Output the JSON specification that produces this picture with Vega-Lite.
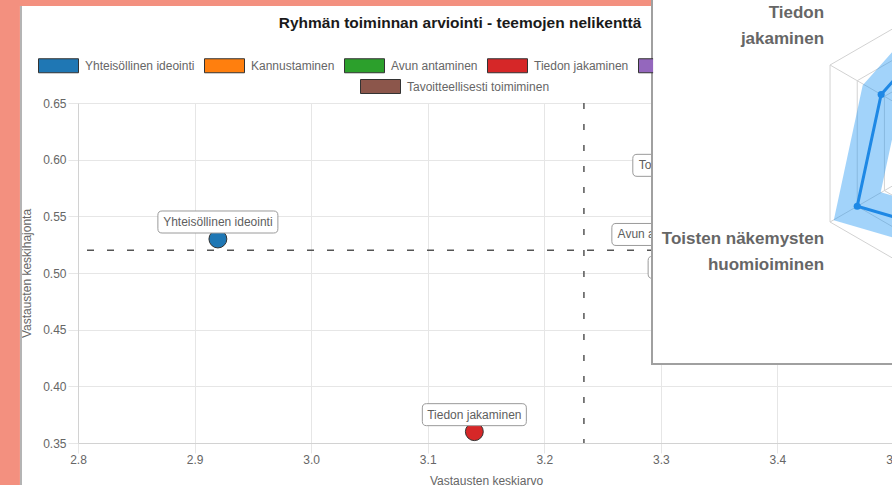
{
  "$schema": "https://vega.github.io/schema/vega-lite/v6.json",
  "autosize": {"type": "none"},
  "padding": {"left": 78, "top": 103, "right": 0, "bottom": 42},
  "width": 816,
  "height": 340,
  "background": "#ffffff",
  "title": {
    "text": "Ryhmän toiminnan arviointi - teemojen nelikenttä",
    "font": "Liberation Sans",
    "fontSize": 15.5,
    "fontWeight": "bold",
    "color": "#1a1a1a",
    "anchor": "middle",
    "frame": "group",
    "offset": 0,
    "dx": -26,
    "dy": 112
  },
  "config": {"view": {"stroke": null}},
  "datasets": {
    "teemat": [
      {"teema": "Yhteisöllinen ideointi", "keskiarvo": 2.92, "keskihajonta": 0.53},
      {"teema": "Kannustaminen", "keskiarvo": 3.35, "keskihajonta": 0.64},
      {"teema": "Avun antaminen", "keskiarvo": 3.30, "keskihajonta": 0.519},
      {"teema": "Tiedon jakaminen", "keskiarvo": 3.14, "keskihajonta": 0.36},
      {"teema": "Toisten näkemysten huomioiminen", "keskiarvo": 3.36, "keskihajonta": 0.58},
      {"teema": "Tavoitteellisesti toimiminen", "keskiarvo": 3.356, "keskihajonta": 0.49}
    ],
    "tutka": [
      {"akseli": "", "kulma": 90, "arvo": 4.6},
      {"akseli": "Tiedon jakaminen", "kulma": 150, "arvo": 3.12},
      {"akseli": "Toisten näkemysten huomioiminen", "kulma": 210, "arvo": 4.0},
      {"akseli": "", "kulma": 270, "arvo": 3.0}
    ],
    "tutkaverkko": [
      {"r1": 3, "a1": 90, "r2": 3, "a2": 150},
      {"r1": 3, "a1": 150, "r2": 3, "a2": 210},
      {"r1": 3, "a1": 210, "r2": 3, "a2": 270},
      {"r1": 4, "a1": 90, "r2": 4, "a2": 150},
      {"r1": 4, "a1": 150, "r2": 4, "a2": 210},
      {"r1": 4, "a1": 210, "r2": 4, "a2": 270},
      {"r1": 5, "a1": 90, "r2": 5, "a2": 150},
      {"r1": 5, "a1": 150, "r2": 5, "a2": 210},
      {"r1": 5, "a1": 210, "r2": 5, "a2": 270},
      {"r1": 0, "a1": 150, "r2": 5, "a2": 150},
      {"r1": 0, "a1": 210, "r2": 5, "a2": 210}
    ],
    "tutkanimet": [
      {"nimi": "Tiedon\njakaminen", "kulma": 150},
      {"nimi": "Toisten näkemysten\nhuomioiminen", "kulma": 210}
    ]
  },
  "data": {"name": "teemat"},
  "layer": [
    {
      "data": {"values": [{}]},
      "mark": {"type": "rect", "color": "#F3907F"},
      "encoding": {
        "x": {"datum": 2.733, "type": "quantitative", "scale": {"domain": [2.8, 3.5], "nice": false, "zero": false}, "axis": null},
        "x2": {"datum": 2.7502},
        "y": {"datum": 0.7409, "type": "quantitative", "scale": {"domain": [0.35, 0.65], "nice": false, "zero": false}, "axis": null},
        "y2": {"datum": 0.30}
      }
    },
    {
      "data": {"values": [{}]},
      "mark": {"type": "rect", "color": "#F3907F"},
      "encoding": {
        "x": {"datum": 2.733, "type": "quantitative", "scale": {"domain": [2.8, 3.5], "nice": false, "zero": false}, "axis": null},
        "x2": {"datum": 3.2924},
        "y": {"datum": 0.7409, "type": "quantitative", "scale": {"domain": [0.35, 0.65], "nice": false, "zero": false}, "axis": null},
        "y2": {"datum": 0.7356}
      }
    },
    {
      "data": {"values": [{}]},
      "mark": {"type": "rule", "color": "#b4b4b4", "strokeWidth": 2},
      "encoding": {
        "x": {"datum": 2.7511, "type": "quantitative", "scale": {"domain": [2.8, 3.5], "nice": false, "zero": false}, "axis": null},
        "y": {"datum": 0.7356, "type": "quantitative", "scale": {"domain": [0.35, 0.65], "nice": false, "zero": false}, "axis": null},
        "y2": {"datum": 0.30}
      }
    },
    {
      "transform": [{"filter": "datum.teema !== 'Tavoitteellisesti toimiminen'"}],
      "mark": {"type": "point", "shape": "circle", "filled": true, "size": 320, "stroke": "#333333", "strokeWidth": 1, "opacity": 1},
      "encoding": {
        "x": {
          "field": "keskiarvo", "type": "quantitative",
          "scale": {"domain": [2.8, 3.5], "nice": false, "zero": false},
          "axis": {
            "title": "Vastausten keskiarvo",
            "values": [2.8, 2.9, 3.0, 3.1, 3.2, 3.3, 3.4, 3.5],
            "format": ".1f",
            "grid": true, "gridColor": "#e6e6e6",
            "tickColor": "#e6e6e6", "tickSize": 10,
            "domainColor": "#d2d2d2",
            "labelFont": "Liberation Sans", "labelFontSize": 12, "labelColor": "#666666",
            "labelPadding": 1, "labelFlush": false,
            "titleFont": "Liberation Sans", "titleFontSize": 12, "titleFontWeight": "normal", "titleColor": "#666666",
            "titlePadding": 10
          }
        },
        "y": {
          "field": "keskihajonta", "type": "quantitative",
          "scale": {"domain": [0.35, 0.65], "nice": false, "zero": false},
          "axis": {
            "title": "Vastausten keskihajonta",
            "values": [0.35, 0.4, 0.45, 0.5, 0.55, 0.6, 0.65],
            "format": ".2f",
            "grid": true, "gridColor": "#e6e6e6",
            "tickColor": "#e6e6e6", "tickSize": 10,
            "domainColor": "#d2d2d2",
            "labelFont": "Liberation Sans", "labelFontSize": 12, "labelColor": "#666666",
            "labelPadding": 2,
            "titleFont": "Liberation Sans", "titleFontSize": 12, "titleFontWeight": "normal", "titleColor": "#666666",
            "titlePadding": 9
          }
        },
        "color": {
          "field": "teema", "type": "nominal",
          "scale": {
            "domain": ["Yhteisöllinen ideointi", "Kannustaminen", "Avun antaminen", "Tiedon jakaminen", "Toisten näkemysten huomioiminen"],
            "range": ["#1f77b4", "#ff7f0e", "#2ca02c", "#d62728", "#9467bd"]
          },
          "legend": {
            "orient": "none", "legendX": -40, "legendY": -58,
            "direction": "horizontal", "title": null,
            "symbolType": {"expr": "datum.value == 'Toisten näkemysten huomioiminen' ? 'M-0.27,-0.35H-1V0.35H-0.27' : 'M-1,-0.35H1V0.35H-1Z'"},
            "symbolSize": 1600,
            "symbolStrokeColor": "#333333", "symbolStrokeWidth": 1,
            "labelFont": "Liberation Sans", "labelFontSize": 12, "labelColor": "#666666",
            "labelOffset": 6, "columnPadding": 7, "padding": 0, "labelLimit": 300,
            "labelExpr": "datum.label == 'Toisten näkemysten huomioiminen' ? '' : datum.label"
          }
        }
      }
    },
    {
      "transform": [{"filter": "datum.teema === 'Tavoitteellisesti toimiminen'"}],
      "mark": {"type": "point", "shape": "circle", "filled": true, "size": 320, "stroke": "#333333", "strokeWidth": 1, "opacity": 1},
      "encoding": {
        "x": {"field": "keskiarvo", "type": "quantitative", "scale": {"domain": [2.8, 3.5], "nice": false, "zero": false}, "axis": null},
        "y": {"field": "keskihajonta", "type": "quantitative", "scale": {"domain": [0.35, 0.65], "nice": false, "zero": false}, "axis": null},
        "fill": {
          "field": "teema", "type": "nominal",
          "scale": {"domain": ["Tavoitteellisesti toimiminen"], "range": ["#8c564b"]},
          "legend": {
            "orient": "none", "legendX": 282, "legendY": -37,
            "direction": "horizontal", "title": null,
            "symbolType": "M-1,-0.35H1V0.35H-1Z", "symbolSize": 1600,
            "symbolStrokeColor": "#333333", "symbolStrokeWidth": 1,
            "labelFont": "Liberation Sans", "labelFontSize": 12, "labelColor": "#666666",
            "labelOffset": 6, "columnPadding": 7, "padding": 0, "labelLimit": 300
          }
        }
      }
    },
    {
      "data": {"values": [{}]},
      "mark": {"type": "rule", "color": "#555555", "strokeWidth": 1.5, "strokeDash": [7, 13]},
      "encoding": {
        "y": {"datum": 0.52, "type": "quantitative", "scale": {"domain": [0.35, 0.65], "nice": false, "zero": false}, "axis": null}
      }
    },
    {
      "data": {"values": [{}]},
      "mark": {"type": "rule", "color": "#555555", "strokeWidth": 1.5, "strokeDash": [6, 15]},
      "encoding": {
        "x": {"datum": 3.234, "type": "quantitative", "scale": {"domain": [2.8, 3.5], "nice": false, "zero": false}, "axis": null}
      }
    },
    {
      "mark": {"type": "point", "filled": true, "fill": "#ffffff", "stroke": "#9a9a9a", "strokeWidth": 1, "size": 14400, "opacity": 1},
      "encoding": {
        "x": {"field": "keskiarvo", "type": "quantitative", "scale": {"domain": [2.8, 3.5], "nice": false, "zero": false}, "axis": null},
        "y": {"field": "keskihajonta", "type": "quantitative", "scale": {"domain": [0.35, 0.65], "nice": false, "zero": false}, "axis": null},
        "shape": {
          "field": "teema", "type": "nominal",
          "scale": {
            "domain": ["Yhteisöllinen ideointi", "Kannustaminen", "Avun antaminen", "Tiedon jakaminen", "Toisten näkemysten huomioiminen", "Tavoitteellisesti toimiminen"],
            "range": [
              "M-0.93,-0.4667H0.93Q1,-0.4667 1,-0.3967V-0.17Q1,-0.1 0.93,-0.1H-0.93Q-1,-0.1 -1,-0.17V-0.3967Q-1,-0.4667 -0.93,-0.4667Z",
              "M-0.7217,-0.4667H0.7217Q0.7917,-0.4667 0.7917,-0.3967V-0.17Q0.7917,-0.1 0.7217,-0.1H-0.7217Q-0.7917,-0.1 -0.7917,-0.17V-0.3967Q-0.7917,-0.4667 -0.7217,-0.4667Z",
              "M-0.7467,-0.4667H0.7467Q0.8167,-0.4667 0.8167,-0.3967V-0.17Q0.8167,-0.1 0.7467,-0.1H-0.7467Q-0.8167,-0.1 -0.8167,-0.17V-0.3967Q-0.8167,-0.4667 -0.7467,-0.4667Z",
              "M-0.7967,-0.4667H0.7967Q0.8667,-0.4667 0.8667,-0.3967V-0.17Q0.8667,-0.1 0.7967,-0.1H-0.7967Q-0.8667,-0.1 -0.8667,-0.17V-0.3967Q-0.8667,-0.4667 -0.7967,-0.4667Z",
              "M-1.5633,-0.4667H1.5633Q1.6333,-0.4667 1.6333,-0.3967V-0.17Q1.6333,-0.1 1.5633,-0.1H-1.5633Q-1.6333,-0.1 -1.6333,-0.17V-0.3967Q-1.6333,-0.4667 -1.5633,-0.4667Z",
              "M-1.23,-0.4667H1.23Q1.3,-0.4667 1.3,-0.3967V-0.17Q1.3,-0.1 1.23,-0.1H-1.23Q-1.3,-0.1 -1.3,-0.17V-0.3967Q-1.3,-0.4667 -1.23,-0.4667Z"
            ]
          },
          "legend": null
        }
      }
    },
    {
      "mark": {"type": "text", "dy": -17, "font": "Liberation Sans", "fontSize": 12, "color": "#5e5e5e", "baseline": "middle", "align": "center"},
      "encoding": {
        "x": {"field": "keskiarvo", "type": "quantitative", "scale": {"domain": [2.8, 3.5], "nice": false, "zero": false}, "axis": null},
        "y": {"field": "keskihajonta", "type": "quantitative", "scale": {"domain": [0.35, 0.65], "nice": false, "zero": false}, "axis": null},
        "text": {"field": "teema", "type": "nominal"}
      }
    },
    {
      "data": {"values": [{}]},
      "mark": {"type": "rect", "fill": "#ffffff", "stroke": "#a0a0a0", "strokeWidth": 2},
      "encoding": {
        "x": {"datum": 3.2924, "type": "quantitative", "scale": {"domain": [2.8, 3.5], "nice": false, "zero": false}, "axis": null},
        "x2": {"datum": 3.75},
        "y": {"datum": 0.7427, "type": "quantitative", "scale": {"domain": [0.35, 0.65], "nice": false, "zero": false}, "axis": null},
        "y2": {"datum": 0.4197}
      }
    },
    {
      "data": {"name": "tutkaverkko"},
      "transform": [
        {"calculate": "datum.r1*cos(datum.a1*PI/180)", "as": "gx1"},
        {"calculate": "datum.r1*sin(datum.a1*PI/180)", "as": "gy1"},
        {"calculate": "datum.r2*cos(datum.a2*PI/180)", "as": "gx2"},
        {"calculate": "datum.r2*sin(datum.a2*PI/180)", "as": "gy2"}
      ],
      "mark": {"type": "rule", "color": "#d2d2d2", "strokeWidth": 1},
      "encoding": {
        "x": {"field": "gx1", "type": "quantitative", "scale": {"domain": [-28.28, -2.293], "nice": false, "zero": false}, "axis": null},
        "y": {"field": "gy1", "type": "quantitative", "scale": {"domain": [-9.538, 1.29], "nice": false, "zero": false}, "axis": null},
        "x2": {"field": "gx2"},
        "y2": {"field": "gy2"}
      }
    },
    {
      "data": {"name": "tutka"},
      "transform": [
        {"calculate": "datum.arvo*cos(datum.kulma*PI/180)", "as": "tx"},
        {"calculate": "datum.arvo*sin(datum.kulma*PI/180)", "as": "ty"}
      ],
      "mark": {"type": "line", "color": "#2196F3", "strokeWidth": 40, "opacity": 0.42, "strokeJoin": "miter", "strokeCap": "butt"},
      "encoding": {
        "x": {"field": "tx", "type": "quantitative", "scale": {"domain": [-28.28, -2.293], "nice": false, "zero": false}, "axis": null},
        "y": {"field": "ty", "type": "quantitative", "scale": {"domain": [-9.538, 1.29], "nice": false, "zero": false}, "axis": null},
        "order": {"field": "kulma", "type": "quantitative"}
      }
    },
    {
      "data": {"name": "tutka"},
      "transform": [
        {"calculate": "datum.arvo*cos(datum.kulma*PI/180)", "as": "tx"},
        {"calculate": "datum.arvo*sin(datum.kulma*PI/180)", "as": "ty"}
      ],
      "mark": {"type": "line", "color": "#1E88E5", "strokeWidth": 3, "strokeJoin": "miter"},
      "encoding": {
        "x": {"field": "tx", "type": "quantitative", "scale": {"domain": [-28.28, -2.293], "nice": false, "zero": false}, "axis": null},
        "y": {"field": "ty", "type": "quantitative", "scale": {"domain": [-9.538, 1.29], "nice": false, "zero": false}, "axis": null},
        "order": {"field": "kulma", "type": "quantitative"}
      }
    },
    {
      "data": {"name": "tutka"},
      "transform": [
        {"calculate": "datum.arvo*cos(datum.kulma*PI/180)", "as": "tx"},
        {"calculate": "datum.arvo*sin(datum.kulma*PI/180)", "as": "ty"}
      ],
      "mark": {"type": "point", "shape": "circle", "filled": true, "color": "#1E88E5", "size": 50, "opacity": 1},
      "encoding": {
        "x": {"field": "tx", "type": "quantitative", "scale": {"domain": [-28.28, -2.293], "nice": false, "zero": false}, "axis": null},
        "y": {"field": "ty", "type": "quantitative", "scale": {"domain": [-9.538, 1.29], "nice": false, "zero": false}, "axis": null}
      }
    },
    {
      "data": {"name": "tutkanimet"},
      "transform": [
        {"filter": "datum.kulma == 150"},
        {"calculate": "5.22*cos(datum.kulma*PI/180)", "as": "nx"},
        {"calculate": "5.22*sin(datum.kulma*PI/180)", "as": "ny"}
      ],
      "mark": {"type": "text", "align": "right", "baseline": "bottom", "dy": -39.5, "font": "Liberation Sans", "fontSize": 17, "fontWeight": "bold", "color": "#666666", "lineBreak": "\n", "lineHeight": 26},
      "encoding": {
        "x": {"field": "nx", "type": "quantitative", "scale": {"domain": [-28.28, -2.293], "nice": false, "zero": false}, "axis": null},
        "y": {"field": "ny", "type": "quantitative", "scale": {"domain": [-9.538, 1.29], "nice": false, "zero": false}, "axis": null},
        "text": {"field": "nimi", "type": "nominal"}
      }
    },
    {
      "data": {"name": "tutkanimet"},
      "transform": [
        {"filter": "datum.kulma == 210"},
        {"calculate": "5.22*cos(datum.kulma*PI/180)", "as": "nx"},
        {"calculate": "5.22*sin(datum.kulma*PI/180)", "as": "ny"}
      ],
      "mark": {"type": "text", "align": "right", "baseline": "top", "dy": 6, "font": "Liberation Sans", "fontSize": 17, "fontWeight": "bold", "color": "#666666", "lineBreak": "\n", "lineHeight": 26},
      "encoding": {
        "x": {"field": "nx", "type": "quantitative", "scale": {"domain": [-28.28, -2.293], "nice": false, "zero": false}, "axis": null},
        "y": {"field": "ny", "type": "quantitative", "scale": {"domain": [-9.538, 1.29], "nice": false, "zero": false}, "axis": null},
        "text": {"field": "nimi", "type": "nominal"}
      }
    }
  ],
  "resolve": {
    "scale": {"x": "independent", "y": "independent"},
    "axis": {"x": "independent", "y": "independent"}
  }
}
